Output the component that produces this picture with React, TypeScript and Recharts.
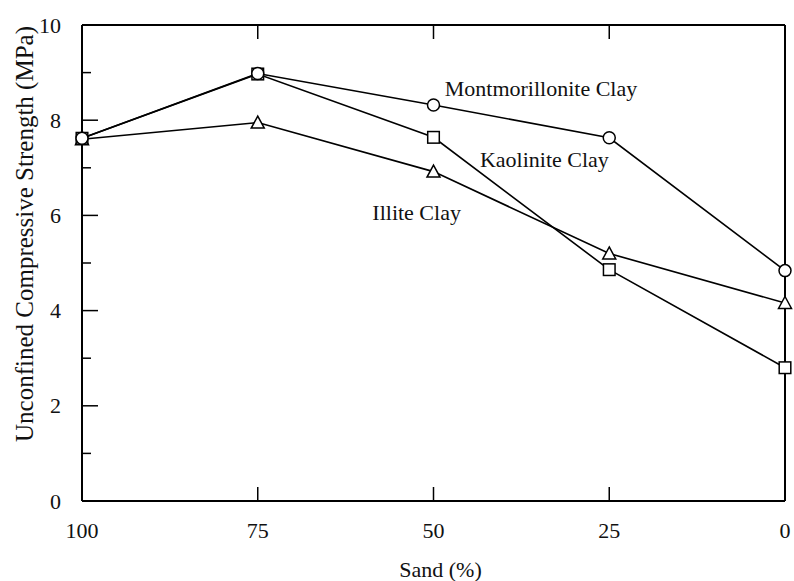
import { LineChart, Line, XAxis, YAxis, ReferenceDot, Label } from "recharts";

// Sand content (%) and unconfined compressive strength (MPa) per clay type
const sand = [100, 75, 50, 25, 0];
const montmorillonite = [7.62, 8.98, 8.32, 7.63, 4.84];
const kaolinite = [7.62, 8.97, 7.64, 4.86, 2.8];
const illite = [7.6, 7.95, 6.92, 5.2, 4.16];

const xTicks = [0, 25, 50, 75, 100];
const yTicks = [0, 1, 2, 3, 4, 5, 6, 7, 8, 9, 10];

// where the in-plot series names sit (data coordinates, left edge / baseline)
const seriesLabels = [
  { text: "Montmorillonite Clay", x: 48.4, y: 8.5 },
  { text: "Kaolinite Clay", x: 43.4, y: 7.02 },
  { text: "Illite Clay", x: 58.7, y: 5.9 },
];

const data = sand.map((s, i) => ({
  sand: s,
  montmorillonite: montmorillonite[i],
  kaolinite: kaolinite[i],
  illite: illite[i],
}));

const FONT = '"Liberation Serif", "Times New Roman", serif';
const INK = "#111";
const FS = 22;

function CircleDot({ cx, cy }: any) {
  if (cx == null || cy == null) return null;
  return <circle cx={cx} cy={cy} r={6} fill="#fff" stroke="#000" strokeWidth={1.5} />;
}

function SquareDot({ cx, cy }: any) {
  if (cx == null || cy == null) return null;
  return <rect x={cx - 5.8} y={cy - 5.8} width={11.6} height={11.6} fill="#fff" stroke="#000" strokeWidth={1.5} />;
}

function TriangleDot({ cx, cy }: any) {
  if (cx == null || cy == null) return null;
  const h = 6.5;
  return (
    <polygon
      points={`${cx},${cy - h} ${cx + 6.5},${cy + h - 1} ${cx - 6.5},${cy + h - 1}`}
      fill="#fff"
      stroke="#000"
      strokeWidth={1.5}
    />
  );
}

function LeftTick({ x, y, payload }: any) {
  const major = payload.value % 2 === 0;
  return (
    <g>
      <line x1={x} x2={x + (major ? 16 : 9)} y1={y} y2={y} stroke="#000" strokeWidth={1.5} />
      {major && (
        <text x={x - 21} y={y} textAnchor="end" dominantBaseline="central" fontFamily={FONT} fontSize={FS} fill={INK}>
          {payload.value}
        </text>
      )}
    </g>
  );
}

function RightTick({ x, y, payload }: any) {
  const major = payload.value % 2 === 0;
  return <line x1={x} x2={x - (major ? 16 : 9)} y1={y} y2={y} stroke="#000" strokeWidth={1.5} />;
}

function BottomTick({ x, y, payload }: any) {
  return (
    <g>
      <line x1={x} x2={x} y1={y} y2={y - 14} stroke="#000" strokeWidth={1.5} />
      <text x={x} y={y + 29} textAnchor="middle" dominantBaseline="central" fontFamily={FONT} fontSize={FS} fill={INK}>
        {payload.value}
      </text>
    </g>
  );
}

function TopTick({ x, y }: any) {
  return <line x1={x} x2={x} y1={y} y2={y + 14} stroke="#000" strokeWidth={1.5} />;
}

function YTitle(props: any) {
  const { x, y, height } = props.viewBox;
  const cx = x + 24;
  const cy = y + height / 2 - 29;
  return (
    <text
      x={cx}
      y={cy}
      transform={`rotate(-90 ${cx} ${cy})`}
      textAnchor="middle"
      dominantBaseline="central"
      fontFamily={FONT}
      fontSize={25}
      fill={INK}
    >
      Unconfined Compressive Strength (MPa)
    </text>
  );
}

function XTitle(props: any) {
  const { x, y, width } = props.viewBox;
  return (
    <text
      x={x + width / 2 + 7}
      y={y + 68}
      textAnchor="middle"
      dominantBaseline="central"
      fontFamily={FONT}
      fontSize={FS}
      fill={INK}
    >
      Sand (%)
    </text>
  );
}

export default function App() {
  const axisLine = { stroke: "#000", strokeWidth: 2 };
  return (
    <div style={{ position: "absolute", left: 0, top: 0, background: "#fff" }}>
      <LineChart width={794} height={581} data={data} margin={{ top: 0, right: 0, bottom: 0, left: 0 }}>
        <XAxis
          xAxisId="bottom"
          dataKey="sand"
          type="number"
          domain={[0, 100]}
          reversed
          ticks={xTicks}
          interval={0}
          height={80}
          tickSize={0}
          tickMargin={0}
          tickLine={false}
          axisLine={axisLine}
          tick={<BottomTick />}
        >
          <Label content={<XTitle />} />
        </XAxis>
        <XAxis
          xAxisId="top"
          orientation="top"
          dataKey="sand"
          type="number"
          domain={[0, 100]}
          reversed
          ticks={xTicks}
          interval={0}
          height={25}
          tickSize={0}
          tickMargin={0}
          tickLine={false}
          axisLine={axisLine}
          tick={<TopTick />}
        />
        <YAxis
          yAxisId="left"
          type="number"
          domain={[0, 10]}
          ticks={yTicks}
          interval={0}
          width={82}
          tickSize={0}
          tickMargin={0}
          tickLine={false}
          axisLine={axisLine}
          tick={<LeftTick />}
        >
          <Label content={<YTitle />} />
        </YAxis>
        <YAxis
          yAxisId="right"
          orientation="right"
          type="number"
          domain={[0, 10]}
          ticks={yTicks}
          interval={0}
          width={9}
          tickSize={0}
          tickMargin={0}
          tickLine={false}
          axisLine={axisLine}
          tick={<RightTick />}
        />
        <Line
          xAxisId="bottom"
          yAxisId="left"
          dataKey="illite"
          stroke="#000"
          strokeWidth={1.6}
          dot={<TriangleDot />}
          activeDot={false}
          isAnimationActive={false}
        />
        <Line
          xAxisId="bottom"
          yAxisId="left"
          dataKey="kaolinite"
          stroke="#000"
          strokeWidth={1.6}
          dot={<SquareDot />}
          activeDot={false}
          isAnimationActive={false}
        />
        <Line
          xAxisId="bottom"
          yAxisId="left"
          dataKey="montmorillonite"
          stroke="#000"
          strokeWidth={1.6}
          dot={<CircleDot />}
          activeDot={false}
          isAnimationActive={false}
        />
        {seriesLabels.map((l) => (
          <ReferenceDot
            key={l.text}
            xAxisId="bottom"
            yAxisId="left"
            x={l.x}
            y={l.y}
            r={0}
            fill="none"
            stroke="none"
            label={{
              content: (p: any) => (
                <text x={p.viewBox.x} y={p.viewBox.y} fontFamily={FONT} fontSize={FS} fill={INK}>
                  {l.text}
                </text>
              ),
            }}
          />
        ))}
      </LineChart>
    </div>
  );
}
